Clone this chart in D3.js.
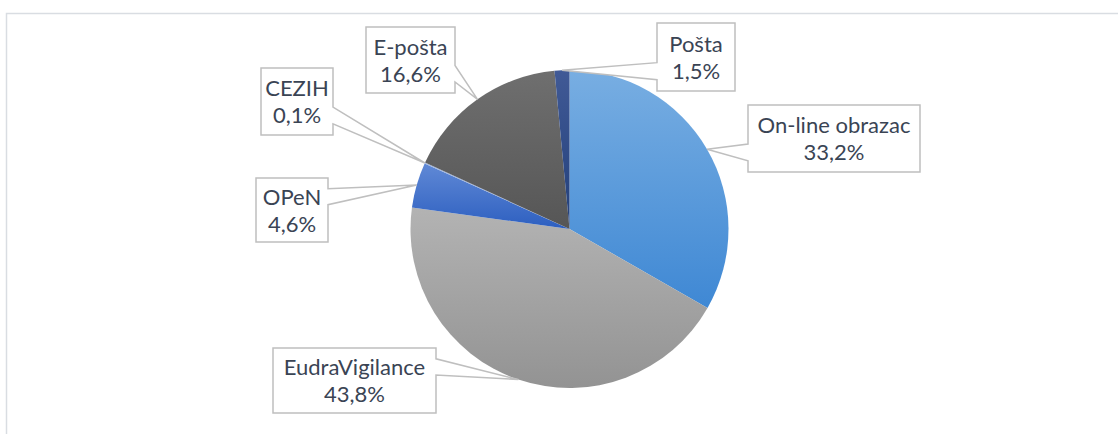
<!DOCTYPE html>
<html>
<head>
<meta charset="utf-8">
<script src="https://cdn.jsdelivr.net/npm/d3@7"></script>
<style>
  html, body { margin: 0; padding: 0; background: #fff; overflow: hidden; }
  svg { display: block; }
</style>
</head>
<body>
<div id="chart"></div>
<script>
(function() {
    // data
    const categories = ['On-line obrazac', 'EudraVigilance', 'OPeN', 'CEZIH', 'E-pošta', 'Pošta'];
    const shares = [33.2, 43.8, 4.6, 0.1, 16.6, 1.5];

    // slice fills: [top colour, bottom colour] of each gradient
    const fills = [
        ['#78aee2', '#3f88d4'],
        ['#b3b3b3', '#939393'],
        ['#6089d6', '#2d5fc0'],
        ['#9fb6e0', '#8aa4d4'],
        ['#6f6f6f', '#565656'],
        ['#415a96', '#223f7a']
    ];

    // callout boxes (left, top, width, height)
    const boxes = [
        { x: 748, y: 105, w: 172, h: 67 },
        { x: 273, y: 348, w: 163, h: 65 },
        { x: 256, y: 178, w: 72, h: 64 },
        { x: 261, y: 68, w: 72, h: 67 },
        { x: 366, y: 27, w: 89, h: 66 },
        { x: 657, y: 23, w: 78, h: 68 }
    ];

    const width = 1118, height = 434;
    const cx = 569.5, cy = 229, r = 159;

    let svg = d3.select('#chart')
        .append('svg')
        .attr('width', width)
        .attr('height', height);

    // chart area frame
    svg.append('rect')
        .attr('x', 6.5)
        .attr('y', 13.5)
        .attr('width', 1120)
        .attr('height', 440)
        .attr('fill', 'none')
        .attr('stroke', '#d9dde2')
        .attr('stroke-width', 1.5);

    let defs = svg.append('defs');
    fills.forEach((f, i) => {
        let g = defs.append('linearGradient')
            .attr('id', 'grad' + i)
            .attr('x1', 0).attr('y1', 0)
            .attr('x2', 0).attr('y2', 1);
        g.append('stop').attr('offset', '0%').attr('stop-color', f[0]);
        g.append('stop').attr('offset', '100%').attr('stop-color', f[1]);
    });

    let pie = d3.pie()
        .sort(null)
        .value(d => d);
    let arcs = pie(shares);
    let arc = d3.arc()
        .innerRadius(0)
        .outerRadius(r);

    let g = svg.append('g')
        .attr('transform', 'translate(' + cx + ',' + cy + ')');

    g.selectAll('.slice')
        .data(arcs)
        .enter()
        .append('path')
        .attr('class', 'slice')
        .attr('d', arc)
        .attr('fill', (d, i) => 'url(#grad' + i + ')');

    // wedge callout like the office preset
    function callout(b, tx, ty) {
        let l = b.x, t = b.y, rr = b.x + b.w, bb = b.y + b.h;
        let hc = b.x + b.w / 2, vc = b.y + b.h / 2;
        let dxPos = tx - hc, dyPos = ty - vc;
        let dq = dxPos * b.h / b.w;
        let dz = Math.abs(dyPos) - Math.abs(dq);
        let x1 = l + b.w * (dxPos > 0 ? 7 : 2) / 12;
        let x2 = l + b.w * (dxPos > 0 ? 10 : 5) / 12;
        let y1 = t + b.h * (dyPos > 0 ? 7 : 2) / 12;
        let y2 = t + b.h * (dyPos > 0 ? 10 : 5) / 12;
        let p = d3.path();
        p.moveTo(l, t);
        if (dz > 0) {
            if (dyPos > 0) {
                p.lineTo(rr, t); p.lineTo(rr, bb); p.lineTo(x2, bb);
                p.lineTo(tx, ty); p.lineTo(x1, bb); p.lineTo(l, bb);
            } else {
                p.lineTo(x1, t); p.lineTo(tx, ty); p.lineTo(x2, t);
                p.lineTo(rr, t); p.lineTo(rr, bb); p.lineTo(l, bb);
            }
        } else {
            if (dxPos > 0) {
                p.lineTo(rr, t); p.lineTo(rr, y1); p.lineTo(tx, ty);
                p.lineTo(rr, y2); p.lineTo(rr, bb); p.lineTo(l, bb);
            } else {
                p.lineTo(rr, t); p.lineTo(rr, bb); p.lineTo(l, bb);
                p.lineTo(l, y2); p.lineTo(tx, ty); p.lineTo(l, y1);
            }
        }
        p.closePath();
        return p.toString();
    }

    let fmt = v => d3.format('.1f')(v).replace('.', ',') + '%';

    let labels = svg.append('g')
        .attr('font-family', 'Lato, "Open Sans", sans-serif')
        .attr('fill', '#3a4454');

    // size the label font so that it spans like the reference
    let probe = labels.append('text')
        .attr('font-size', 100)
        .text('EudraVigilance');
    let fontSize = 100 * 141.5 / probe.node().getComputedTextLength();
    probe.remove();

    arcs.forEach((d, i) => {
        let a = (d.startAngle + d.endAngle) / 2;
        let tx = cx + r * Math.sin(a);
        let ty = cy - r * Math.cos(a);
        let b = boxes[i];
        labels.append('path')
            .attr('d', callout(b, tx, ty))
            .attr('fill', '#fff')
            .attr('stroke', '#bfbfbf')
            .attr('stroke-width', 1.5)
            .attr('stroke-linejoin', 'miter');
        let mx = b.x + b.w / 2, my = b.y + b.h / 2;
        labels.append('text')
            .attr('x', mx)
            .attr('y', my - 5.5)
            .attr('text-anchor', 'middle')
            .attr('font-size', fontSize)
            .text(categories[i]);
        labels.append('text')
            .attr('x', mx)
            .attr('y', my + 21.7)
            .attr('text-anchor', 'middle')
            .attr('font-size', fontSize)
            .text(fmt(shares[i]));
    });
})();
</script>
</body>
</html>
